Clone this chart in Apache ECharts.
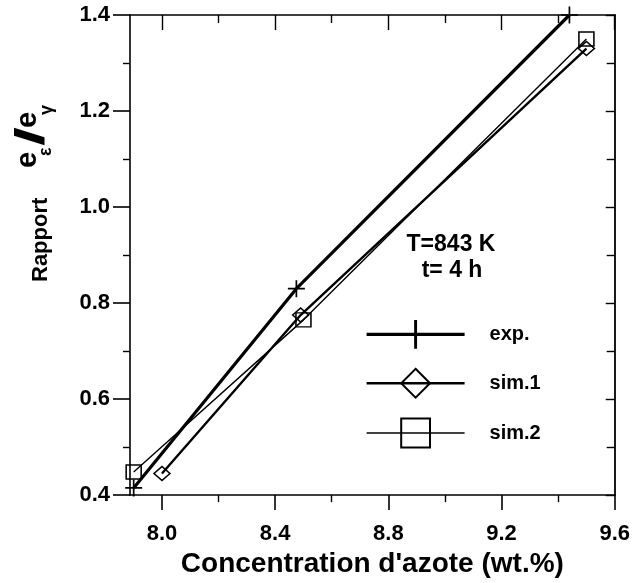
<!DOCTYPE html>
<html>
<head>
<meta charset="utf-8">
<script src="https://cdn.jsdelivr.net/npm/echarts@6/dist/echarts.min.js"></script>
<style>
  html, body { margin: 0; padding: 0; background: #fff; }
  #chart { width: 633px; height: 583px; }
</style>
</head>
<body>
<div id="chart"></div>
<script>
// Measured ratio e_eps / e_gamma against nitrogen content
const expX = [7.9, 8.475, 9.44];
const expY = [0.415, 0.83, 1.40];
const sim1X = [8.0, 8.49, 9.5];
const sim1Y = [0.445, 0.775, 1.33];
const sim2X = [7.9, 8.5, 9.5];
const sim2Y = [0.448, 0.765, 1.35];

const seriesNames = ['exp.', 'sim.1', 'sim.2'];
const xMajorTicks = [8.0, 8.4, 8.8, 9.2, 9.6];
const xMinorTicks = [8.2, 8.6, 9.0, 9.4];
const xRange = [7.887, 9.6];
const yRange = [0.4, 1.4];
const yStep = 0.2;
const conditionLines = ['T=843 K', 't= 4 h'];

const FONT = "'Liberation Sans', Arial, Helvetica, sans-serif";
const INK = '#000';
const lineWidths = [3.2, 2.4, 1.4];

const pairs = (xs, ys) => xs.map((x, i) => [x, ys[i]]);

// plus-shaped marker as a filled outline
const PLUS = 'path://M-1,-10 L1,-10 L1,-1 L10,-1 L10,1 L1,1 L1,10 L-1,10 L-1,1 L-10,1 L-10,-1 L-1,-1 Z';

const chart = echarts.init(document.getElementById('chart'), null, { renderer: 'canvas' });

const xBase = {
  type: 'value', min: xRange[0], max: xRange[1],
  splitLine: { show: false }
};

const option = {
  animation: false,
  backgroundColor: '#fff',
  grid: { left: 130, right: 16, top: 15, bottom: 85, containLabel: false },
  xAxis: [
    Object.assign({}, xBase, {
      position: 'bottom',
      name: "Concentration d'azote (wt.%)",
      nameLocation: 'middle',
      nameGap: 44,
      nameTextStyle: { fontFamily: FONT, fontWeight: 'bold', fontSize: 28, color: INK },
      axisLine: { show: true, onZero: false, lineStyle: { color: INK, width: 1.6 } },
      axisTick: { show: true, inside: false, length: 15, customValues: xMajorTicks, lineStyle: { color: INK, width: 1.6 } },
      axisLabel: { show: true, customValues: xMajorTicks, margin: 28, fontFamily: FONT, fontWeight: 'bold', fontSize: 22, color: INK,
        formatter: v => v.toFixed(1) }
    }),
    Object.assign({}, xBase, {
      position: 'bottom',
      axisLine: { show: false },
      axisTick: { show: true, inside: false, length: 7, customValues: xMinorTicks, lineStyle: { color: INK, width: 1.4 } },
      axisLabel: { show: false }
    }),
    Object.assign({}, xBase, {
      position: 'top',
      axisLine: { show: true, onZero: false, lineStyle: { color: INK, width: 1.6 } },
      axisTick: { show: true, inside: true, length: 15, customValues: xMajorTicks, lineStyle: { color: INK, width: 1.4 } },
      axisLabel: { show: false }
    }),
    Object.assign({}, xBase, {
      position: 'top',
      axisLine: { show: false },
      axisTick: { show: true, inside: true, length: 8, customValues: xMinorTicks, lineStyle: { color: INK, width: 1.4 } },
      axisLabel: { show: false }
    })
  ],
  yAxis: [
    {
      type: 'value', position: 'left', min: yRange[0], max: yRange[1], interval: yStep,
      splitLine: { show: false },
      axisLine: { show: true, onZero: false, lineStyle: { color: INK, width: 1.6 } },
      axisTick: { show: true, inside: false, length: 17, lineStyle: { color: INK, width: 1.6 } },
      minorTick: { show: true, splitNumber: 2, length: 7, lineStyle: { color: INK, width: 1.4 } },
      axisLabel: { show: true, margin: 20, fontFamily: FONT, fontWeight: 'bold', fontSize: 22, color: INK,
        formatter: v => v.toFixed(1) }
    },
    {
      type: 'value', position: 'right', min: yRange[0], max: yRange[1], interval: yStep,
      splitLine: { show: false },
      axisLine: { show: true, onZero: false, lineStyle: { color: INK, width: 1.8 } },
      axisTick: { show: true, inside: true, length: 9, lineStyle: { color: INK, width: 1.4 } },
      minorTick: { show: true, splitNumber: 2, length: 8, lineStyle: { color: INK, width: 1.4 } },
      axisLabel: { show: false }
    }
  ],
  legend: {
    orient: 'vertical',
    left: 360, top: 315,
    itemWidth: 98, itemHeight: 36, itemGap: 19,
    selectedMode: false,
    data: seriesNames.map((n, i) => ({ name: n, lineStyle: { width: lineWidths[i] } })),
    textStyle: { fontFamily: FONT, fontWeight: 'bold', fontSize: 20, color: INK, padding: [0, 0, 0, 20] }
  },
  series: [
    {
      name: seriesNames[0], type: 'line', xAxisIndex: 0, yAxisIndex: 0,
      data: pairs(expX, expY),
      symbol: PLUS, symbolSize: 17,
      itemStyle: { color: INK },
      lineStyle: { color: INK, width: lineWidths[0] },
      z: 3
    },
    {
      name: seriesNames[1], type: 'line', xAxisIndex: 0, yAxisIndex: 0,
      data: pairs(sim1X, sim1Y),
      symbol: 'diamond', symbolSize: [16, 14],
      itemStyle: { color: 'rgba(255,255,255,0)', borderColor: INK, borderWidth: 1.5 },
      lineStyle: { color: INK, width: lineWidths[1] },
      z: 2
    },
    {
      name: seriesNames[2], type: 'line', xAxisIndex: 0, yAxisIndex: 0,
      data: pairs(sim2X, sim2Y),
      symbol: 'rect', symbolSize: [15, 14],
      itemStyle: { color: 'rgba(255,255,255,0)', borderColor: INK, borderWidth: 1.5 },
      lineStyle: { color: INK, width: lineWidths[2] },
      z: 2
    }
  ],
  graphic: [
    {
      type: 'text',
      style: { text: conditionLines[0], x: 451, y: 245, align: 'center', verticalAlign: 'middle',
        font: 'bold 23px ' + FONT, fill: INK }
    },
    {
      type: 'text',
      style: { text: conditionLines[1], x: 452, y: 271, align: 'center', verticalAlign: 'middle',
        font: 'bold 23px ' + FONT, fill: INK }
    },
    {
      // vertical axis title: "Rapport e_eps / e_gamma"
      type: 'group', x: 41, y: 282, rotation: Math.PI / 2,
      children: [
        { type: 'text', style: { text: 'Rapport', x: 0, y: 0, align: 'left', verticalAlign: 'middle', font: 'bold 22px ' + FONT, fill: INK } },
        { type: 'text', style: { text: 'e', x: 114, y: -13, align: 'left', verticalAlign: 'middle', font: 'bold 29px ' + FONT, fill: INK } },
        { type: 'text', style: { text: 'ε', x: 126, y: 5, align: 'left', verticalAlign: 'middle', font: 'bold 18px ' + FONT, fill: INK } },
        { type: 'text', x: 136, y: -8, scaleX: 1.7,
          style: { text: '/', x: 0, y: 0, align: 'left', verticalAlign: 'middle', font: 'bold 40px ' + FONT, fill: INK } },
        { type: 'text', style: { text: 'e', x: 154, y: -13, align: 'left', verticalAlign: 'middle', font: 'bold 29px ' + FONT, fill: INK } },
        { type: 'text', style: { text: 'γ', x: 167, y: 6, align: 'left', verticalAlign: 'middle', font: 'bold 18px ' + FONT, fill: INK } }
      ]
    }
  ]
};

chart.setOption(option);
</script>
</body>
</html>
